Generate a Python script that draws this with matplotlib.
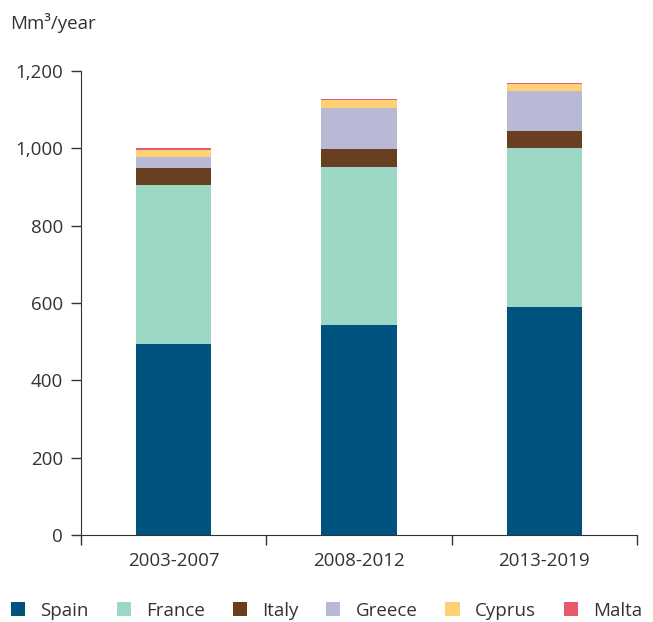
import matplotlib
matplotlib.use("Agg")
import matplotlib.pyplot as plt
import numpy as np
from matplotlib.patches import Patch

plt.rcParams['font.family'] = ['Open Sans', 'DejaVu Sans']

periods = ["2003-2007", "2008-2012", "2013-2019"]
countries = ["Spain", "France", "Italy", "Greece", "Cyprus", "Malta"]
spain = [494, 543, 590]
france = [411, 409, 411]
italy = [44, 47, 44]
greece = [29, 104, 103]
cyprus = [18, 23, 18]
malta = [5, 2, 3]
colors = ["#00527f", "#9dd7c5", "#693f22", "#b7b9d5", "#ffd177", "#e55a6c"]

series = [spain, france, italy, greece, cyprus, malta]
fs = 13.5

fig = plt.figure(figsize=(6.53, 6.22), dpi=100)
ax = fig.add_axes([0.124, 0.14, 0.8515, 0.746])

x = np.arange(len(periods))
bottom = np.zeros(len(periods))
for vals, c in zip(series, colors):
    ax.bar(x, vals, width=0.405, bottom=bottom, color=c, linewidth=0)
    bottom += np.array(vals)

ax.set_xlim(-0.5, 2.5)
ax.set_ylim(0, 1200)
ax.set_yticks(range(0, 1201, 200))
ax.set_yticklabels([f"{v:,}" for v in range(0, 1201, 200)])
ax.set_xticks([-0.5, 0.5, 1.5, 2.5])
ax.set_xticklabels([])
ax.set_xticks(x, minor=True)
ax.set_xticklabels(periods, minor=True)
ax.tick_params(axis='x', which='minor', length=0, pad=12, labelsize=fs, labelcolor="#333333")
ax.tick_params(axis='x', which='major', length=7, width=1, color="#333333")
ax.tick_params(axis='y', length=7, width=1, color="#333333", pad=6)
ax.tick_params(axis='y', labelsize=fs, labelcolor="#333333")
for s in ["top", "right"]:
    ax.spines[s].set_visible(False)
for s in ["left", "bottom"]:
    ax.spines[s].set_color("#333333")

fig.text(0.015, 0.963, "Mm³/year", fontsize=fs, color="#333333", va="center")

handles = [Patch(facecolor=c, edgecolor="none") for c in colors]
fig.legend(handles, countries, loc="center", bbox_to_anchor=(0.5, 0.018), ncol=6,
           frameon=False, fontsize=fs, handlelength=0.75, handleheight=0.75,
           handletextpad=0.8, columnspacing=1.5, labelcolor="#333333")

fig.savefig("out.png", dpi=100)
